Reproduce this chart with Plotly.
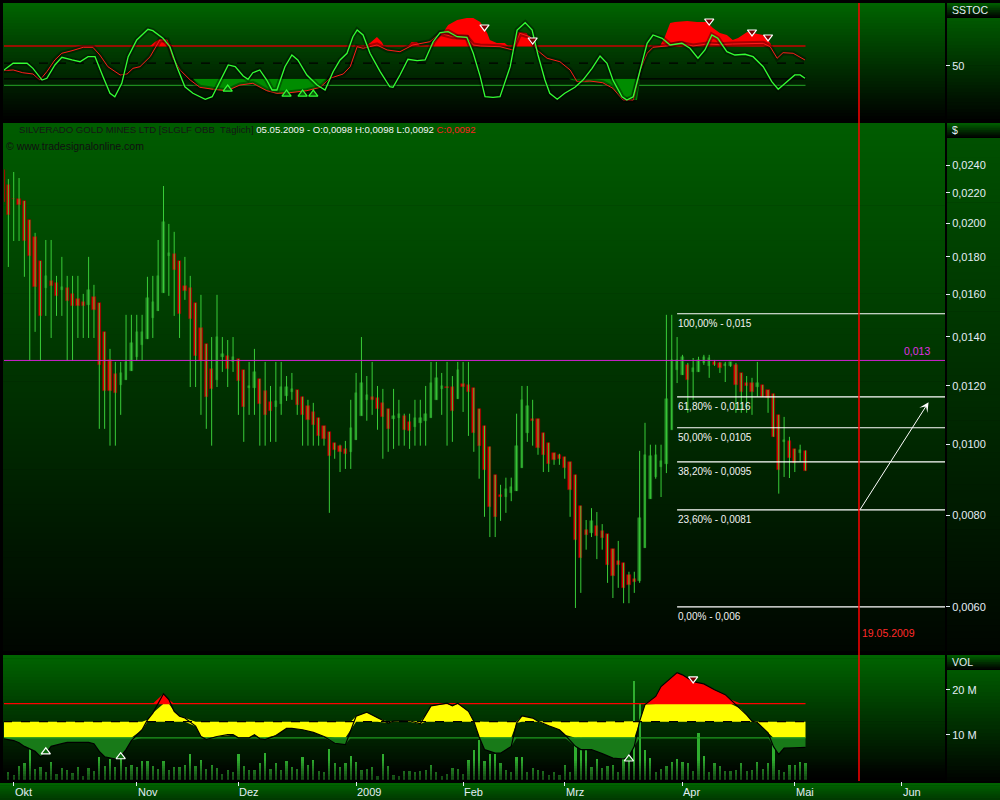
import numpy as np
import plotly.graph_objects as go

W, H = 1000, 800

# ---------------- DATA ----------------
# daily bars, index 0 = 29.09.2008 (trading days only)
opens = [.02363,.02254,.02158,.02158,.02144,.02020,.01915,.01776,.01633,.01669,
         .01658,.01622,.01633,.01602,.01577,.01562,.01547,.01587,.01557,.01422,
         .01302,.01246,.01204,.01223,.01258,.01315,.01365,.01390,.01485,.01518,
         .01607,.01804,.01816,.01776,.01643,.01633,.01557,.01440,.01369,.01266,
         .01223,.01315,.01319,.01294,.01306,.01262,.01193,.01193,.01227,.01181,
         .01142,.01124,.01135,.01163,.01178,.01185,.01160,.01127,.01106,.01086,
         .01059,.01039,.01004,.00995,.00985,.00976,.01013,.01093,.01149,.01160,
         .01156,.01138,.01117,.01083,.01086,.01093,.01072,.01056,.01069,.01076,
         .01086,.01149,.01189,.01196,.01196,.01152,.01207,.01204,.01193,.01117,
         .01059,.00992,.00908,.00853,.00847,.00858,.00863,.00928,.01036,.01083,
         .01083,.01036,.01004,.00973,.00967,.00961,.00946,.00908,.00824,.00764,
         .00757,.00774,.00762,.00754,.00720,.00693,.00689,.00664,.00655,.00651,
         .00722,.00842,.00902,.00931,.00940,.01046,.01262,.01242,.01282,.01254,
         .01254,.01290,.01278,.01294,.01290,.01278,.01278,.01282,.01250,.01211,
         .01211,.01196,.01204,.01185,.01171,.01096,.01007,.01010,.00985,.00973,
         .0098]
highs = [.02393,.02297,.02348,.02304,.02144,.02020,.01940,.01776,.01897,.01897,
         .01695,.01799,.01695,.01695,.01695,.01602,.01799,.01648,.01557,.01422,
         .01348,.01294,.01294,.01500,.01500,.01500,.01500,.01690,.01695,.01897,
         .02247,.01995,.01946,.01776,.01799,.01695,.01557,.01597,.01369,.01399,
         .01597,.01399,.01386,.01399,.01306,.01262,.01294,.01348,.01227,.01294,
         .01200,.01294,.01294,.01238,.01250,.01185,.01160,.01149,.01138,.01086,
         .01059,.01039,.01004,.00998,.01010,.01149,.01250,.01399,.01238,.01294,
         .01200,.01189,.01117,.01189,.01149,.01100,.01100,.01149,.01149,.01200,
         .01294,.01294,.01250,.01294,.01238,.01294,.01294,.01294,.01193,.01117,
         .01059,.00992,.00908,.00880,.00900,.00900,.01100,.01200,.01200,.01149,
         .01083,.01036,.01004,.00973,.00970,.00961,.00946,.00908,.00824,.00788,
         .00818,.00808,.00778,.00754,.00720,.00738,.00689,.00670,.00670,.00979,
         .01069,.00998,.00998,.00998,.01500,.01500,.01399,.01323,.01290,.01310,
         .01315,.01323,.01323,.01302,.01294,.01294,.01294,.01290,.01250,.01238,
         .01231,.01294,.01204,.01185,.01171,.01096,.01089,.01023,.00985,.00998,
         .0098]
lows = [.01690,.01743,.01891,.01891,.01690,.01298,.01422,.01298,.01495,.01395,
        .01495,.01495,.01298,.01298,.01395,.01395,.01395,.01395,.01049,.01049,
        .00995,.00995,.01096,.01223,.01258,.01298,.01298,.01390,.01395,.01518,
        .01607,.01592,.01495,.01395,.01572,.01196,.01196,.01096,.01049,.00995,
        .01196,.01254,.01196,.01254,.01096,.01007,.01096,.01096,.00995,.00995,
        .01007,.01007,.01096,.01145,.01149,.01096,.00995,.00995,.00995,.00995,
        .00995,.00806,.00955,.00916,.00925,.00925,.01013,.01093,.01076,.01096,
        .01046,.00955,.00976,.00985,.00995,.00995,.00985,.00995,.00995,.00995,
        .01086,.01149,.01096,.00995,.01007,.01152,.01106,.01026,.00976,.00897,
        .00796,.00747,.00747,.00786,.00806,.00836,.00863,.00928,.01007,.00995,
        .00967,.00916,.00916,.00937,.00937,.00897,.00796,.00598,.00627,.00718,
        .00747,.00697,.00718,.00647,.00617,.00637,.00607,.00607,.00627,.00647,
        .00722,.00842,.00897,.00847,.00913,.01046,.01211,.01242,.01103,.01149,
        .01254,.01282,.01231,.01278,.01250,.01215,.01274,.01103,.01103,.01103,
        .01096,.01160,.01160,.01103,.01023,.00856,.00902,.00899,.00916,.00946,
        .0092]
closes = [.02138,.02052,.02155,.02117,.01891,.01804,.01638,.01495,.01695,.01643,
          .01592,.01638,.01567,.01542,.01542,.01542,.01622,.01523,.01282,.01181,
          .01181,.01174,.01250,.01294,.01373,.01422,.01422,.01582,.01562,.01695,
          .02008,.01821,.01727,.01504,.01617,.01481,.01319,.01298,.01160,.01189,
          .01399,.01327,.01266,.01315,.01219,.01124,.01200,.01254,.01135,.01096,
          .01110,.01145,.01196,.01196,.01189,.01131,.01096,.01079,.01062,.01026,
          .01016,.00964,.00982,.00976,.00970,.01052,.01174,.01211,.01167,.01149,
          .01117,.01089,.01049,.01093,.01100,.01046,.01042,.01086,.01086,.01100,
          .01211,.01231,.01200,.01193,.01110,.01262,.01196,.01178,.01036,.00995,
          .00922,.00821,.00796,.00847,.00869,.00874,.00995,.01149,.01127,.01076,
          .00988,.00967,.00940,.00952,.00955,.00928,.00866,.00740,.00700,.00752,
          .00786,.00750,.00745,.00685,.00662,.00685,.00637,.00643,.00649,.00793,
          .00967,.00964,.00967,.00949,.01152,.01302,.01302,.01315,.01223,.01270,
          .01302,.01315,.01310,.01282,.01270,.01286,.01294,.01204,.01178,.01200,
          .01178,.01211,.01160,.01156,.01023,.00922,.01013,.00958,.00943,.00982,
          .0092]
volume_m = [2.6,1.7,1.1,3.1,3.6,7.0,2.4,2.9,1.7,3.9,1.3,2.7,2.2,1.5,2.9,0.9,2.7,2.0,5.1,3.1,
            4.7,2.9,4.7,2.9,3.3,2.9,4.2,4.2,3.1,2.4,4.2,2.2,2.9,2.9,3.3,5.8,3.1,4.4,2.4,3.3,
            2.7,1.3,2.2,1.8,5.8,3.1,2.2,2.2,3.6,6.0,2.4,3.8,2.2,4.2,2.9,2.4,5.1,3.3,4.4,2.0,
            1.8,6.9,3.6,2.9,3.8,5.3,4.0,2.2,2.4,2.9,0.9,5.6,3.1,1.1,0.9,2.0,2.0,1.8,2.0,2.2,
            3.3,1.6,0.9,1.3,2.7,2.4,1.3,4.4,6.7,8.9,4.2,5.6,5.8,3.6,2.2,1.6,5.1,5.1,1.8,2.7,
            2.2,2.0,1.1,1.8,1.1,3.3,1.8,10.9,13.1,8.4,2.9,4.7,2.7,3.1,3.3,1.8,7.3,9.3,22.0,16.9,
            6.7,4.9,1.8,2.4,3.1,4.0,4.7,4.0,3.6,2.0,10.4,5.3,1.8,3.6,3.1,2.0,2.0,2.2,3.6,2.0,
            2.2,4.0,2.4,3.6,8.2,2.2,1.6,3.3,3.3,4.0,3.6]

month_labels = ["Okt", "Nov", "Dez", "2009", "Feb", "Mrz", "Apr", "Mai", "Jun"]
month_start = [2, 25, 44, 66, 86, 105, 127, 148, 168]

price_ticks = [0.006, 0.008, 0.010, 0.012, 0.014, 0.016, 0.018, 0.020, 0.022, 0.024]
price_tick_text = ["0,0060", "0,0080", "0,0100", "0,0120", "0,0140", "0,0160",
                   "0,0180", "0,0200", "0,0220", "0,0240"]

fib_high, fib_low = 0.01505, 0.0060
fib_pct = [1.0, 0.618, 0.5, 0.382, 0.236, 0.0]
fib_text = ["100,00% - 0,015", "61,80% - 0,0116", "50,00% - 0,0105",
            "38,20% - 0,0095", "23,60% - 0,0081", "0,00% - 0,006"]
fib_start = 126
support_level, support_text = 0.013, "0,013"
forecast_idx, forecast_label = 160, "19.05.2009"
arrow_from = (160, 0.0081)
arrow_to = (173, 0.0114)

# SSTOC indicator
stoch_k_x = [0,1.9,4.5,5.6,7.3,8.2,9.7,11.0,12.9,14.4,15.9,17.2,18.7,20.0,20.9,22.2,23.4,25.0,27.1,28.0,
             29.9,31.2,32.5,34.0,35.5,37.8,39.1,40.6,42.1,43.4,44.9,45.8,46.7,48.0,49.3,50.3,51.2,52.7,54.0,55.1,
             56.8,58.7,60.2,61.7,63.0,64.3,65.4,66.2,67.3,68.6,70.5,72.3,72.9,74.2,75.7,77.4,78.9,80.4,81.7,83.2,
             84.9,86.7,87.9,89.2,90.1,91.6,92.9,94.8,96.1,97.6,98.9,100.0,101.3,102.2,103.6,105.0,106.9,108.4,110.1,111.6,
             112.9,114.0,115.7,116.6,117.8,119.1,120.4,121.5,123.2,124.7,126.9,128.4,129.9,131.2,132.5,133.6,135.3,136.8,138.7,140.2,
             142.1,143.7,144.9,146.2,148.0,149.0,149.9]
stoch_k = [42.4,53.7,53.7,46.0,28.2,30.8,51.1,62.8,58.7,56.1,63.7,63.7,33.3,8.0,2.8,23.2,63.7,89.1,105.4,103.3,
           91.7,78.9,48.5,18.0,8.0,-1.1,2.8,28.2,51.1,48.5,34.3,29.3,39.3,43.5,28.2,13.0,13.0,48.5,66.3,58.7,
           35.9,20.6,13.0,40.9,58.7,68.9,94.1,104.3,96.7,68.9,40.9,18.0,17.1,35.9,59.7,57.6,58.7,86.5,100.2,101.8,
           94.1,93.2,68.9,33.3,2.8,1.9,2.8,48.5,104.3,115.5,104.3,66.3,28.2,8.0,-1.1,8.0,17.1,28.2,46.0,64.8,
           53.7,28.2,2.8,-2.2,2.8,43.5,84.1,96.7,91.7,81.5,84.1,76.5,61.3,73.9,96.7,91.7,71.3,66.3,67.4,63.7,
           48.5,25.7,14.1,23.2,35.9,35.9,30.8]
stoch_d_x = [0,1.9,3.7,5.6,6.9,8.2,9.7,11.0,12.9,15.0,16.8,18.1,19.6,21.9,23.2,24.3,25.6,27.5,29.3,30.7,
             31.8,33.1,35.0,36.8,39.3,41.9,44.3,46.7,49.3,51.2,53.6,56.8,59.3,61.1,63.6,64.9,66.2,67.3,69.9,71.8,
             74.2,76.6,79.8,81.7,84.1,86.7,87.9,89.2,92.9,95.3,96.6,98.5,99.8,101.7,104.1,106.0,107.3,109.7,112.1,114.0,
             115.9,117.8,119.1,120.4,121.5,124.1,126.5,129.0,131.6,134.0,136.4,139.1,142.1,143.4,144.7,145.8,147.7,149.9]
stoch_d = [42.4,43.5,39.3,37.4,28.2,40.9,58.7,68.9,72.8,78.0,78.0,66.3,48.5,35.9,37.4,46.0,48.5,63.7,89.1,89.1,
           61.3,43.5,28.2,17.1,14.1,12.0,20.6,23.2,12.0,8.0,8.9,12.0,17.1,30.8,37.4,48.5,78.9,76.5,81.5,73.9,
           71.3,81.5,86.5,99.3,94.1,93.2,81.5,80.0,78.9,73.9,99.3,94.1,73.9,61.3,56.1,43.5,25.7,26.7,24.1,15.6,
           -2.2,-2.2,43.5,68.9,78.0,80.0,84.1,80.0,83,82,83,84,84,78.9,61.3,69.8,68.9,58.7]
hot_x = [27.5,28.4,29.3,30.3,31.2,31.8,None,67.7,68.6,69.9,70.8,71.2,None,75.7,76.4,77.4,77.9,None,
         79.8,80.4,82.2,83.2,84.9,86.7,87.9,89.2,90.5,91.0,92.3,93.8,94.4,None,95.3,96.3,97.9,99.1,None,
         122.8,123.7,124.7,125.6,127.9,129.7,131.6,132.7,134.0,135.3,136.4,137.4,139.1,140.2,142.1,143.4,143.7]
hot_y = [80,86.1,90.6,89.1,83.0,80,None,80,84.6,93.7,86.1,80,None,80,86.1,86.1,80,None,
         80,84.6,99.8,112,119.6,122.6,122.6,116.5,99.8,89.1,84.6,84.6,80,None,80,101.3,99.8,80,None,
         80,93.7,115,116.5,118,116.5,116.5,107.4,99.8,96.7,89.1,92.2,101.3,99.8,96.7,84.6,80]
cold_x = [35.5,36.8,39.3,41.9,44.3,46.7,49.3,51.2,53.6,56.8,59.3,60.6,None,
          105.8,107.9,111.6,113.5,115.3,116.6,118.5,119.1]
cold_y = [30,17.6,13,11.5,20.6,22.2,11.5,6.9,8.5,11.5,16.1,30,None,
          30,23.7,25.2,20.6,2.4,-2.2,-2.2,30]
stoch_levels = [80, 54, 30, 20]
stoch_buy_x, stoch_buy_y = [42, 53, 56, 58], [14.5, 6.9, 6.9, 6.9]
stoch_sell_x, stoch_sell_y = [90, 99, 132, 140, 143], [108.9, 89.1, 118, 101.3, 93.7]

# volume indicator (smoothed, millions)
volma_x = [0,2,3,4,6,7,8,9,11,12,16,17,18,19,21,22,23,24,26,27,28,30,31,32,33,34,36,37,38,40,
           42,43,44,46,47,48,49,51,53,54,56,58,60,62,64,65,66,68,69,70,72,73,76,78,79,80,83,84,85,87,
           88,89,90,92,93,95,96,97,99,100,102,104,105,107,108,110,112,114,116,117,118,119,120,122,123,126,127,129,131,133,
           135,136,138,139,140,141,143,144,145,146,148,150]
volma_y = [9.1,8.7,8.2,7.4,6.3,5.1,5.8,7.4,8.0,8.3,8.3,8.0,6.3,5.1,4.6,5.2,6.7,8.7,11.1,13.3,14.8,19.1,17.8,15.2,14.1,13.7,11.9,9.6,8.9,9.6,
           10.0,10.0,9.3,9.3,10.0,9.1,8.9,9.8,11.4,11.4,11.1,10.5,9.6,8.1,7.8,11.1,14.1,15.0,14.4,13.7,12.6,13.0,13.1,12.4,14.4,16.4,17.0,16.4,17.0,15.2,
           13.0,9.5,6.7,5.9,5.9,7.4,12.6,14.2,13.7,13.0,12.0,11.1,10.0,7.4,6.7,6.7,5.8,4.8,4.6,5.2,7.4,13.0,16.7,18.5,20.7,23.8,23.3,21.8,21.3,20.0,
           18.9,17.8,15.7,14.4,13.0,12.7,10.4,7.4,5.6,7.0,7.1,7.2]
vol_upper, vol_mid, vol_lower = 16.9, 12.9, 9.3
vol_buy_x, vol_buy_y = [8, 22, 117], [6.2, 5.1, 4.6]
vol_sell_x, vol_sell_y = [129], [22.4]

# ---------------- FIGURE ----------------
FONT = "Liberation Sans"
LIGHT = "#e4eef6"
n = len(opens)
idx = np.arange(n)
o, h, l, c = (np.array(a, dtype=float) for a in (opens, highs, lows, closes))


def py(px):
    return 1 - px / H


def px_x(px):
    return px / W


shapes = []


def grad(x0, x1, y0, y1, c0, c1, nb, layer="below"):
    for k in range(nb):
        t = k / max(nb - 1, 1)
        col = tuple(int(round(c0[j] + (c1[j] - c0[j]) * t)) for j in range(3))
        ya = y0 + (y1 - y0) * k / nb
        yb = y0 + (y1 - y0) * (k + 1) / nb + 0.7
        shapes.append(dict(type="rect", xref="paper", yref="paper",
                           x0=px_x(x0), x1=px_x(x1), y0=py(min(yb, y1)), y1=py(ya),
                           fillcolor="rgb(%d,%d,%d)" % col, line=dict(width=0), layer=layer))


# panel backgrounds
grad(3, 945, 3, 119, (0, 100, 0), (0, 2, 0), 40)
grad(3, 945, 123, 651, (0, 92, 0), (0, 6, 0), 90)
grad(3, 945, 655, 781, (0, 100, 0), (0, 2, 0), 40)
# right column
grad(947, 1000, 3, 17, (0, 92, 0), (0, 8, 0), 8)
grad(947, 1000, 18, 119, (0, 88, 0), (0, 4, 0), 30)
grad(947, 1000, 123, 137, (0, 92, 0), (0, 8, 0), 8)
grad(947, 1000, 138, 651, (0, 80, 0), (0, 6, 0), 80)
grad(947, 1000, 655, 669, (0, 92, 0), (0, 8, 0), 8)
grad(947, 1000, 670, 781, (0, 88, 0), (0, 4, 0), 30)
# date band
grad(0, 1000, 783, 800, (0, 98, 0), (0, 58, 0), 8)

fig = go.Figure()

# ---- SSTOC panel ----
for lev, col, dash, wd in zip(stoch_levels, ["#c80000", "#000000", "#000000", "#1e8c1e"],
                              ["solid", "dash", "solid", "solid"], [1.6, 1.2, 1.2, 1.2]):
    fig.add_trace(go.Scatter(x=[0, n - 1], y=[lev, lev], mode="lines", xaxis="x", yaxis="y",
                             line=dict(color=col, width=wd, dash=dash), hoverinfo="skip"))
fig.add_trace(go.Scatter(x=cold_x, y=cold_y, mode="lines", fill="toself", fillcolor="rgb(0,140,0)",
                         line=dict(width=0), xaxis="x", yaxis="y", hoverinfo="skip"))
fig.add_trace(go.Scatter(x=hot_x, y=hot_y, mode="lines", fill="toself", fillcolor="#ff0000",
                         line=dict(width=0), xaxis="x", yaxis="y", hoverinfo="skip"))
for xs, ys, col, wd in [(stoch_d_x, stoch_d, "#ff1a1a", 1.0), (stoch_k_x, stoch_k, "#33ff33", 1.3)]:
    fig.add_trace(go.Scatter(x=xs, y=ys, mode="lines", xaxis="x", yaxis="y",
                             line=dict(color="rgba(0,0,0,0.35)", width=5), hoverinfo="skip"))
    fig.add_trace(go.Scatter(x=xs, y=ys, mode="lines", xaxis="x", yaxis="y",
                             line=dict(color=col, width=wd), hoverinfo="skip"))
fig.add_trace(go.Scatter(x=stoch_buy_x, y=stoch_buy_y, mode="markers", xaxis="x", yaxis="y",
                         marker=dict(symbol="triangle-up", size=8, color="#0a5a0a",
                                     line=dict(color="#33ff33", width=1.2)), hoverinfo="skip"))
fig.add_trace(go.Scatter(x=stoch_sell_x, y=stoch_sell_y, mode="markers", xaxis="x", yaxis="y",
                         marker=dict(symbol="triangle-down", size=8, color="#7a0000",
                                     line=dict(color="#ffffff", width=1.2)), hoverinfo="skip"))

# ---- price panel ----
wx, wy = [], []
for i in range(n):
    wx += [i, i, None]
    wy += [l[i], h[i], None]
up = c >= o
dn = ~up
min_body = 0.00002
fig.add_trace(go.Bar(x=idx[up], base=o[up], y=np.maximum(c[up] - o[up], min_body), width=0.45,
                     marker=dict(color="rgb(38,140,38)", line=dict(color="rgb(38,140,38)", width=0.5)),
                     xaxis="x", yaxis="y2", hoverinfo="skip"))
fig.add_trace(go.Scatter(x=wx, y=wy, mode="lines", line=dict(color="#38cc38", width=1),
                         xaxis="x", yaxis="y2", hoverinfo="skip"))
fig.add_trace(go.Bar(x=idx[dn], base=c[dn], y=np.maximum(o[dn] - c[dn], min_body), width=0.6,
                     marker=dict(color="#e80000", line=dict(color="#900000", width=0.6)),
                     xaxis="x", yaxis="y2", hoverinfo="skip"))
# support line
fig.add_trace(go.Scatter(x=[-1, 180], y=[support_level, support_level], mode="lines",
                         line=dict(color="#d020d0", width=1), xaxis="x", yaxis="y2", hoverinfo="skip"))
# fibonacci
fib_levels = [fib_low + (fib_high - fib_low) * p for p in fib_pct]
for lev in fib_levels:
    fig.add_trace(go.Scatter(x=[fib_start, 180], y=[lev, lev], mode="lines",
                             line=dict(color="#ffffff", width=1.2), xaxis="x", yaxis="y2", hoverinfo="skip"))

# ---- volume panel ----
fig.add_trace(go.Bar(x=idx, y=volume_m, width=0.42, marker=dict(color="#2fae2f", line=dict(width=0)),
                     xaxis="x", yaxis="y3", hoverinfo="skip"))
cv = np.array(volma_y, dtype=float)
cc = np.clip(cv, vol_lower, vol_upper)
low_y = np.minimum(cc, vol_mid)
up_y = np.maximum(cc, vol_mid)
pairs = [
    (low_y, up_y, "#ffff00"),
    (np.full_like(cv, vol_upper), np.maximum(cv, vol_upper), "#ff0000"),
    (np.full_like(cv, vol_lower), np.minimum(cv, vol_lower), "rgb(24,122,24)"),
]
for a, b, col in pairs:
    fig.add_trace(go.Scatter(x=volma_x, y=a, mode="lines", line=dict(width=0), xaxis="x", yaxis="y3",
                             hoverinfo="skip"))
    fig.add_trace(go.Scatter(x=volma_x, y=b, mode="lines", line=dict(width=0), fill="tonexty",
                             fillcolor=col, xaxis="x", yaxis="y3", hoverinfo="skip"))
for lev, col, dash in [(vol_upper, "#ff0000", "solid"), (vol_mid, "#000000", "dash"), (vol_lower, "#1f9a1f", "solid")]:
    fig.add_trace(go.Scatter(x=[0, n - 1], y=[lev, lev], mode="lines", line=dict(color=col, width=1.4, dash=dash),
                             xaxis="x", yaxis="y3", hoverinfo="skip"))
fig.add_trace(go.Scatter(x=volma_x, y=volma_y, mode="lines", line=dict(color="#000000", width=1.2),
                         xaxis="x", yaxis="y3", hoverinfo="skip"))
fig.add_trace(go.Scatter(x=vol_buy_x, y=vol_buy_y, mode="markers", xaxis="x", yaxis="y3",
                         marker=dict(symbol="triangle-up", size=8, color="#0a6a0a",
                                     line=dict(color="#ffffff", width=1.2)), hoverinfo="skip"))
fig.add_trace(go.Scatter(x=vol_sell_x, y=vol_sell_y, mode="markers", xaxis="x", yaxis="y3",
                         marker=dict(symbol="triangle-down", size=8, color="#7a0000",
                                     line=dict(color="#ffffff", width=1.2)), hoverinfo="skip"))
# darken the foot of the volume bars
for k in range(8):
    shapes.append(dict(type="rect", xref="paper", yref="y3", x0=px_x(3), x1=px_x(945),
                       y0=4.2 - (k + 1) * 0.56, y1=4.2 - k * 0.56,
                       fillcolor="rgba(0,0,0,%.2f)" % (0.08 + 0.08 * k), line=dict(width=0), layer="above"))

# forecast vertical line
shapes.append(dict(type="line", xref="x", yref="paper", x0=forecast_idx, x1=forecast_idx,
                   y0=py(781), y1=py(3), line=dict(color="#ff0000", width=1.5), layer="above"))

annotations = []
for lev, txt in zip(fib_levels, fib_text):
    annotations.append(dict(x=fib_start, y=np.log10(lev), xref="x", yref="y2", text=txt, showarrow=False,
                            xanchor="left", yanchor="top", yshift=-2, xshift=-1,
                            font=dict(family=FONT, size=10, color="#f2f2f2")))
annotations.append(dict(x=173.6, y=np.log10(support_level), xref="x", yref="y2", text=support_text,
                        showarrow=False, xanchor="right", yanchor="bottom", yshift=1,
                        font=dict(family=FONT, size=10.5, color="#e030e0")))
annotations.append(dict(x=arrow_to[0], y=np.log10(arrow_to[1]), ax=arrow_from[0], ay=np.log10(arrow_from[1]),
                        xref="x", yref="y2", axref="x", ayref="y2", text="", showarrow=True,
                        arrowhead=3, arrowsize=1.6, arrowwidth=1, arrowcolor="#ffffff"))
annotations.append(dict(x=forecast_idx, y=py(641), xref="x", yref="paper", text=forecast_label,
                        showarrow=False, xanchor="left", xshift=1,
                        font=dict(family=FONT, size=10.5, color="#ff2a2a")))
header = ('<span style="color:#161616">SILVERADO GOLD MINES LTD [SLGLF OBB  Täglich]</span> '
          '<span style="color:#f4f4f4">05.05.2009 - O:0,0098 H:0,0098 L:0,0092</span> '
          '<span style="color:#ff2020">C:0,0092</span>')
annotations.append(dict(x=px_x(17), y=py(130), xref="paper", yref="paper", text=header, showarrow=False,
                        xanchor="left", yanchor="middle", font=dict(family=FONT, size=9.6)))
annotations.append(dict(x=px_x(4), y=py(146), xref="paper", yref="paper", text="© www.tradesignalonline.com",
                        showarrow=False, xanchor="left", yanchor="middle",
                        font=dict(family=FONT, size=10.5, color="#101010")))
for txt, ypx in [("SSTOC", 10), ("$", 130), ("VOL", 662)]:
    annotations.append(dict(x=px_x(950), y=py(ypx), xref="paper", yref="paper", text=txt, showarrow=False,
                            xanchor="left", yanchor="middle", font=dict(family=FONT, size=10.5, color=LIGHT)))
for lab, ms in zip(month_labels, month_start):
    annotations.append(dict(x=ms, y=py(792), xref="x", yref="paper", text=lab, showarrow=False,
                            xanchor="left", yanchor="middle", xshift=-1,
                            font=dict(family=FONT, size=11, color=LIGHT)))

x_lo = (px_x(4) * W - 3) / 5.35
x_hi = (945 - 3) / 5.35
price_top = 0.024 * 10 ** ((165 - 123) / 734)
price_bot = 0.024 * 10 ** (-(650 - 165) / 734)
tick_common = dict(side="right", ticks="outside", ticklen=4, tickcolor=LIGHT, tickwidth=1,
                   tickfont=dict(family=FONT, size=11, color=LIGHT), showgrid=False,
                   zeroline=False, showline=False, fixedrange=True)

fig.update_layout(
    width=W, height=H, margin=dict(l=0, r=0, t=0, b=0),
    paper_bgcolor="#000000", plot_bgcolor="rgba(0,0,0,0)",
    showlegend=False, barmode="overlay", bargap=0,
    shapes=shapes, annotations=annotations,
    xaxis=dict(domain=[px_x(4), px_x(945)], range=[x_lo, x_hi], anchor="y3",
               tickvals=month_start, ticktext=[""] * len(month_start), ticks="outside", ticklen=4,
               tickcolor=LIGHT, showgrid=False, zeroline=False, showline=False, fixedrange=True),
    yaxis=dict(domain=[py(119), py(3)], range=[-31.1, 145.4], anchor="x",
               tickvals=[50], ticktext=["50"], **tick_common),
    yaxis2=dict(domain=[py(650), py(123)], type="log",
                range=[np.log10(price_bot), np.log10(price_top)], anchor="x",
                tickvals=price_ticks, ticktext=price_tick_text, **tick_common),
    yaxis3=dict(domain=[py(781), py(655)], range=[-0.29, 27.71], anchor="x",
                tickvals=[10, 20], ticktext=["10 M", "20 M"], **tick_common),
)

fig.write_html("out.html", config={"displayModeBar": False},
               post_script="document.body.style.margin='0px';document.body.style.overflow='hidden';")
